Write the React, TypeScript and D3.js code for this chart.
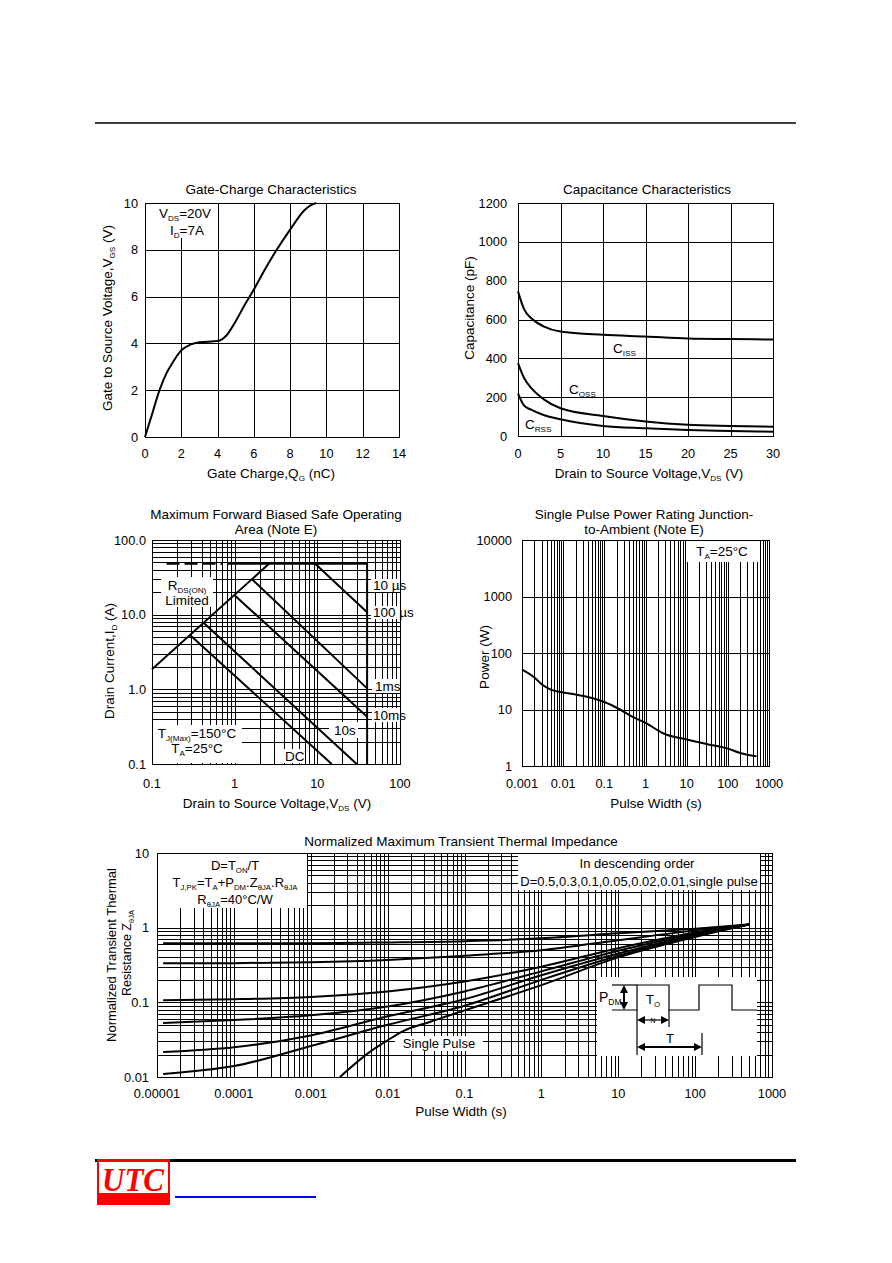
import React from 'react';
import * as d3 from 'd3';

const FONT = '"Liberation Sans", Arial, Helvetica, sans-serif';
const TICK = 12.8;
const LBL = 13.5;

// ---------- Chart 1: Gate-Charge ----------
const gateQ = [0, 0.4, 0.8, 1.2, 1.5, 2.0, 2.5, 3.0, 4.0, 4.5, 5.0, 5.5, 6.0, 6.6, 7.26, 8.0, 8.8, 9.2, 9.45];
const gateV = [0, 1.0, 2.0, 2.75, 3.15, 3.7, 3.95, 4.05, 4.1, 4.35, 4.95, 5.65, 6.3, 7.15, 8.0, 8.86, 9.7, 9.93, 10];
const gateXTicks = [0, 2, 4, 6, 8, 10, 12, 14];
const gateYTicks = [0, 2, 4, 6, 8, 10];

// ---------- Chart 2: Capacitance ----------
const capV = [0, 0.7, 1.6, 3, 5, 10, 15, 20, 25, 30];
const capCiss = [745, 655, 605, 565, 538, 521, 512, 502, 499, 497];
const capCoss = [375, 300, 245, 190, 143, 103, 75, 58, 52, 48];
const capCrss = [220, 158, 134, 108, 86, 52, 40, 31, 26, 22];
const capXTicks = [0, 5, 10, 15, 20, 25, 30];
const capYTicks = [0, 200, 400, 600, 800, 1000, 1200];

// ---------- Chart 3: SOA ----------
const soaRds = [[0.1, 1.86], [2.6, 48]];
const soaIdmDashed = [[0.15, 48], [0.72, 48]];
const soaIdmSolid = [[0.83, 48], [40, 48]];
const soaVmax = [[40, 48], [40, 0.1]];
const soa10us = [[9.4, 48], [40, 10.8]];
const soa100us = [[1.61, 30], [40, 1.03]];
const soa1ms = [[0.99, 18.4], [40, 0.43]];
const soa10ms = [[0.42, 7.8], [29.9, 0.1]];
const soaDC = [[0.288, 5.35], [14.9, 0.1]];
const soaXTicks = [0.1, 1, 10, 100];
const soaXTickLabels = ['0.1', '1', '10', '100'];
const soaYTicks = [0.1, 1, 10, 100];
const soaYTickLabels = ['0.1', '1.0', '10.0', '100.0'];

// ---------- Chart 4: Single pulse power ----------
const pwT = [0.001, 0.002, 0.003, 0.005, 0.01, 0.02, 0.05, 0.1, 0.24, 0.5, 1, 2.75, 10, 30, 100, 200, 500];
const pwP = [51, 37, 28, 22.5, 20, 18.5, 16, 13.6, 10, 7.3, 5.8, 3.76, 2.94, 2.45, 2.03, 1.7, 1.48];
const pwXTicks = [0.001, 0.01, 0.1, 1, 10, 100, 1000];
const pwXTickLabels = ['0.001', '0.01', '0.1', '1', '10', '100', '1000'];
const pwYTicks = [1, 10, 100, 1000, 10000];
const pwYTickLabels = ['1', '10', '100', '1000', '10000'];

// ---------- Chart 5: Transient thermal impedance ----------
const tpX = [1.2e-5, 1e-4, 1e-3, 0.01, 0.1, 1, 10, 100, 500];
const zD05 = [0.62, 0.62, 0.62, 0.635, 0.66, 0.72, 0.84, 0.97, 1.1];
const zD03 = [0.333, 0.335, 0.345, 0.37, 0.42, 0.5, 0.68, 0.92, 1.1];
const zD01 = [0.107, 0.11, 0.118, 0.14, 0.19, 0.3, 0.53, 0.86, 1.1];
const zD005 = [0.053, 0.058, 0.067, 0.088, 0.14, 0.26, 0.49, 0.83, 1.1];
const zD002 = [0.0216, 0.025, 0.036, 0.065, 0.11, 0.23, 0.45, 0.8, 1.1];
const zD001 = [0.011, 0.014, 0.026, 0.05, 0.09, 0.2, 0.42, 0.78, 1.1];
const spX = [0.0024, 0.006, 0.01, 0.015, 0.036, 0.1, 1, 10, 100, 500];
const spZ = [0.01, 0.022, 0.031, 0.04, 0.055, 0.078, 0.17, 0.4, 0.75, 1.1];
const tzXTicks = [1e-5, 1e-4, 1e-3, 0.01, 0.1, 1, 10, 100, 1000];
const tzXTickLabels = ['0.00001', '0.0001', '0.001', '0.01', '0.1', '1', '10', '100', '1000'];
const tzYTicks = [0.01, 0.1, 1, 10];
const tzYTickLabels = ['0.01', '0.1', '1', '10'];

// ---------- helpers ----------
const px = (v: number) => Math.round(v) + 0.5;

function logGrid(lo: number, hi: number): number[] {
  const out: number[] = [];
  const e0 = Math.floor(Math.log10(lo) + 1e-9);
  const e1 = Math.ceil(Math.log10(hi) - 1e-9);
  for (let e = e0; e <= e1; e++) {
    for (let m = 1; m <= 9; m++) {
      const v = m * Math.pow(10, e);
      if (v >= lo * 0.999 && v <= hi * 1.001) out.push(v);
    }
  }
  return out;
}

type Seg = string | { s: string };
function RT({ x, y, segs, size = LBL, anchor = 'middle', rotate = false, weight }: any) {
  let sub = false;
  const parts = (segs as Seg[]).map((s, i) => {
    if (typeof s === 'string') {
      const dy = sub ? -3 : 0;
      sub = false;
      return (
        <tspan key={i} dy={dy} fontSize={size}>
          {s}
        </tspan>
      );
    }
    const dy = sub ? 0 : 3;
    sub = true;
    return (
      <tspan key={i} dy={dy} fontSize={size * 0.6}>
        {s.s}
      </tspan>
    );
  });
  return (
    <text
      x={x}
      y={y}
      fontFamily={FONT}
      fontSize={size}
      fontWeight={weight}
      textAnchor={anchor}
      fill="#000"
      transform={rotate ? `rotate(-90 ${x} ${y})` : undefined}
    >
      {parts}
    </text>
  );
}

function Grid({ xs, ys, x, y, x0, x1, y0, y1 }: any) {
  return (
    <g stroke="#000" strokeWidth={1} shapeRendering="crispEdges">
      {xs.map((v: number, i: number) => (
        <line key={'v' + i} x1={px(x(v))} x2={px(x(v))} y1={y0} y2={y1} />
      ))}
      {ys.map((v: number, i: number) => (
        <line key={'h' + i} y1={px(y(v))} y2={px(y(v))} x1={x0} x2={x1} />
      ))}
    </g>
  );
}

function Frame({ x0, x1, y0, y1 }: any) {
  return (
    <rect
      x={px(x0)}
      y={px(y0)}
      width={Math.round(x1) - Math.round(x0)}
      height={Math.round(y1) - Math.round(y0)}
      fill="none"
      stroke="#000"
      strokeWidth={1}
      shapeRendering="crispEdges"
    />
  );
}

function Curve({ pts, x, y, w = 2, dash, smooth = true }: any) {
  const gen = d3
    .line<number[]>()
    .x((d) => x(d[0]))
    .y((d) => y(d[1]))
    .curve(smooth ? d3.curveMonotoneX : d3.curveLinear);
  return <path d={gen(pts) || ''} fill="none" stroke="#000" strokeWidth={w} strokeDasharray={dash} strokeLinejoin="round" />;
}

const zip = (a: number[], b: number[]) => a.map((v, i) => [v, b[i]]);

function Ticks({ vals, labels, scale, y, x, axis }: any) {
  return (
    <g>
      {vals.map((t: number, i: number) =>
        axis === 'x' ? (
          <text key={i} x={scale(t)} y={y} fontSize={TICK} fontFamily={FONT} textAnchor="middle">
            {labels ? labels[i] : t}
          </text>
        ) : (
          <text key={i} x={x} y={scale(t) + 4.5} fontSize={TICK} fontFamily={FONT} textAnchor="end">
            {labels ? labels[i] : t}
          </text>
        )
      )}
    </g>
  );
}

export default function App() {
  // scales
  const x1 = d3.scaleLinear().domain([0, 14]).range([145, 399]);
  const y1 = d3.scaleLinear().domain([0, 10]).range([437, 203]);
  const x2 = d3.scaleLinear().domain([0, 30]).range([518, 773]);
  const y2 = d3.scaleLinear().domain([0, 1200]).range([436, 203]);
  const x3 = d3.scaleLog().domain([0.1, 100]).range([152, 400]);
  const y3 = d3.scaleLog().domain([0.1, 100]).range([764, 540]);
  const x4 = d3.scaleLog().domain([0.001, 1000]).range([522, 769]);
  const y4 = d3.scaleLog().domain([1, 10000]).range([766, 540]);
  const x5 = d3.scaleLog().domain([1e-5, 1000]).range([157, 772]);
  const y5 = d3.scaleLog().domain([0.01, 10]).range([1077, 853]);

  const whiteBox = (x: number, y: number, w: number, h: number) => (
    <rect x={x} y={y} width={w} height={h} fill="#fff" stroke="none" />
  );

  // pulse diagram origin
  const pdx = 597;
  const pdy = 977;

  return (
    <svg
      width={892}
      height={1263}
      viewBox="0 0 892 1263"
      style={{ position: 'absolute', left: 0, top: 0, background: '#fff' }}
      fontFamily={FONT}
    >
      <rect x={0} y={0} width={892} height={1263} fill="#fff" />
      {/* header rule */}
      <line x1={95} x2={796} y1={123} y2={123} stroke="#000" strokeWidth={1.3} />

      {/* ================= Chart 1 ================= */}
      <g>
        <Grid xs={gateXTicks} ys={gateYTicks} x={x1} y={y1} x0={145} x1={399} y0={203} y1={437} />
        {whiteBox(146, 204, 70, 34)}
        <Frame x0={145} x1={399} y0={203} y1={437} />
        <Curve pts={zip(gateQ, gateV)} x={x1} y={y1} />
        <RT x={271} y={194} segs={['Gate-Charge Characteristics']} />
        <Ticks axis="x" vals={gateXTicks} scale={x1} y={458} />
        <Ticks axis="y" vals={gateYTicks} scale={y1} x={138} />
        <RT x={271} y={478} segs={['Gate Charge,Q', { s: 'G' }, ' (nC)']} />
        <RT x={112} y={318} rotate segs={['Gate to Source Voltage,V', { s: 'GS' }, ' (V)']} />
        <RT x={185} y={218} segs={['V', { s: 'DS' }, '=20V']} />
        <RT x={187} y={235} segs={['I', { s: 'D' }, '=7A']} />
      </g>

      {/* ================= Chart 2 ================= */}
      <g>
        <Grid xs={capXTicks} ys={capYTicks} x={x2} y={y2} x0={518} x1={773} y0={203} y1={436} />
        <Frame x0={518} x1={773} y0={203} y1={436} />
        <Curve pts={zip(capV, capCiss)} x={x2} y={y2} />
        <Curve pts={zip(capV, capCoss)} x={x2} y={y2} />
        <Curve pts={zip(capV, capCrss)} x={x2} y={y2} />
        <RT x={647} y={194} segs={['Capacitance Characteristics']} />
        <Ticks axis="x" vals={capXTicks} scale={x2} y={458} />
        <Ticks axis="y" vals={capYTicks} scale={y2} x={507} />
        <RT x={649} y={478} segs={['Drain to Source Voltage,V', { s: 'DS' }, ' (V)']} />
        <RT x={474} y={308} rotate segs={['Capacitance (pF)']} />
        <RT x={613} y={353} anchor="start" segs={['C', { s: 'ISS' }]} />
        <RT x={569} y={394} anchor="start" segs={['C', { s: 'OSS' }]} />
        <RT x={525} y={429} anchor="start" segs={['C', { s: 'RSS' }]} />
      </g>

      {/* ================= Chart 3 ================= */}
      <g>
        <Grid xs={logGrid(0.1, 100)} ys={logGrid(0.1, 100)} x={x3} y={y3} x0={152} x1={400} y0={540} y1={764} />
        {whiteBox(161, 577, 52, 30)}
        {whiteBox(153, 725, 89, 38)}
        {whiteBox(329, 722, 29, 16)}
        {whiteBox(282, 749, 23, 14)}
        {whiteBox(371, 579, 29, 13)}
        {whiteBox(371, 606, 29, 13)}
        {whiteBox(372, 679, 28, 14)}
        {whiteBox(372, 708, 28, 14)}
        <Frame x0={152} x1={400} y0={540} y1={764} />
        <Curve pts={soaRds} x={x3} y={y3} smooth={false} />
        <Curve pts={soaIdmDashed} x={x3} y={y3} smooth={false} dash="13,5" />
        <Curve pts={soaIdmSolid} x={x3} y={y3} smooth={false} />
        <Curve pts={soaVmax} x={x3} y={y3} smooth={false} />
        <Curve pts={soa10us} x={x3} y={y3} smooth={false} />
        <Curve pts={soa100us} x={x3} y={y3} smooth={false} />
        <Curve pts={soa1ms} x={x3} y={y3} smooth={false} />
        <Curve pts={soa10ms} x={x3} y={y3} smooth={false} />
        <Curve pts={soaDC} x={x3} y={y3} smooth={false} />
        <RT x={276} y={519} segs={['Maximum Forward Biased Safe Operating']} />
        <RT x={276} y={534} segs={['Area (Note E)']} />
        <Ticks axis="x" vals={soaXTicks} labels={soaXTickLabels} scale={x3} y={788} />
        <Ticks axis="y" vals={soaYTicks} labels={soaYTickLabels} scale={y3} x={146} />
        <RT x={277} y={808} segs={['Drain to Source Voltage,V', { s: 'DS' }, ' (V)']} />
        <RT x={114} y={661} rotate segs={['Drain Current,I', { s: 'D' }, ' (A)']} />
        <RT x={187} y={590} segs={['R', { s: 'DS(ON)' }]} />
        <RT x={187} y={605} segs={['Limited']} />
        <RT x={197} y={738} segs={['T', { s: 'J(Max)' }, '=150°C']} />
        <RT x={197} y={753} segs={['T', { s: 'A' }, '=25°C']} />
        <RT x={373} y={590} anchor="start" segs={['10 µs']} />
        <RT x={373} y={617} anchor="start" segs={['100 µs']} />
        <RT x={375} y={691} anchor="start" segs={['1ms']} />
        <RT x={373} y={720} anchor="start" segs={['10ms']} />
        <RT x={334} y={735} anchor="start" segs={['10s']} />
        <RT x={285} y={761} anchor="start" segs={['DC']} />
      </g>

      {/* ================= Chart 4 ================= */}
      <g>
        <Grid xs={logGrid(0.001, 1000)} ys={pwYTicks} x={x4} y={y4} x0={522} x1={769} y0={540} y1={766} />
        {whiteBox(687, 541, 73, 21)}
        <Frame x0={522} x1={769} y0={540} y1={766} />
        <Curve pts={zip(pwT, pwP)} x={x4} y={y4} />
        <RT x={644} y={519} segs={['Single Pulse Power Rating Junction-']} />
        <RT x={644} y={534} segs={['to-Ambient (Note E)']} />
        <Ticks axis="x" vals={pwXTicks} labels={pwXTickLabels} scale={x4} y={788} />
        <Ticks axis="y" vals={pwYTicks} labels={pwYTickLabels} scale={y4} x={512} />
        <RT x={656} y={808} segs={['Pulse Width (s)']} />
        <RT x={489} y={657} rotate segs={['Power (W)']} />
        <RT x={722} y={556} segs={['T', { s: 'A' }, '=25°C']} />
      </g>

      {/* ================= Chart 5 ================= */}
      <g>
        <Grid xs={logGrid(1e-5, 1000)} ys={logGrid(0.01, 10)} x={x5} y={y5} x0={157} x1={772} y0={853} y1={1077} />
        {whiteBox(158, 854, 149, 54)}
        {whiteBox(518, 854, 242, 36)}
        {whiteBox(395, 1036, 88, 15)}
        {whiteBox(pdx, pdy, 160, 79)}
        <Frame x0={157} x1={772} y0={853} y1={1077} />
        <Curve pts={zip(tpX, zD05)} x={x5} y={y5} />
        <Curve pts={zip(tpX, zD03)} x={x5} y={y5} />
        <Curve pts={zip(tpX, zD01)} x={x5} y={y5} />
        <Curve pts={zip(tpX, zD005)} x={x5} y={y5} />
        <Curve pts={zip(tpX, zD002)} x={x5} y={y5} />
        <Curve pts={zip(tpX, zD001)} x={x5} y={y5} />
        <Curve pts={zip(spX, spZ)} x={x5} y={y5} />
        <RT x={461} y={846} segs={['Normalized Maximum Transient Thermal Impedance']} />
        <Ticks axis="x" vals={tzXTicks} labels={tzXTickLabels} scale={x5} y={1098} />
        <Ticks axis="y" vals={tzYTicks} labels={tzYTickLabels} scale={y5} x={149} />
        <RT x={461} y={1116} segs={['Pulse Width (s)']} />
        <RT x={116} y={955} size={13} rotate segs={['Normalized Transient Thermal']} />
        <RT x={131} y={953} size={12.5} rotate segs={['Resistance Z', { s: 'θJA' }]} />
        <RT x={235} y={870} size={13} segs={['D=T', { s: 'ON' }, '/T']} />
        <RT x={235} y={887} size={13} segs={['T', { s: 'J,PK' }, '=T', { s: 'A' }, '+P', { s: 'DM' }, '.Z', { s: 'θJA' }, '.R', { s: 'θJA' }]} />
        <RT x={235} y={904} size={13} segs={['R', { s: 'θJA' }, '=40°C/W']} />
        <RT x={637} y={868} size={13} segs={['In descending order']} />
        <RT x={639} y={886} size={13} segs={['D=0.5,0.3,0.1,0.05,0.02,0.01,single pulse']} />
        <RT x={439} y={1048} size={13} segs={['Single Pulse']} />

        {/* pulse diagram */}
        <g stroke="#000" strokeWidth={1.2} fill="none">
          <polyline
            points={`${pdx + 15},${pdy + 33} ${pdx + 40},${pdy + 33} ${pdx + 40},${pdy + 8} ${pdx + 72},${pdy + 8} ${pdx + 72},${pdy + 33} ${pdx + 102},${pdy + 33} ${pdx + 102},${pdy + 8} ${pdx + 135},${pdy + 8} ${pdx + 135},${pdy + 33} ${pdx + 160},${pdy + 33}`}
          />
          <line x1={pdx + 15} x2={pdx + 40} y1={pdy + 8} y2={pdy + 8} />
          <line x1={pdx + 40} x2={pdx + 40} y1={pdy + 33} y2={pdy + 78} />
          <line x1={pdx + 72} x2={pdx + 72} y1={pdy + 33} y2={pdy + 50} />
          <line x1={pdx + 105} x2={pdx + 105} y1={pdy + 56} y2={pdy + 78} />
          <line x1={pdx + 27} x2={pdx + 27} y1={pdy + 12} y2={pdy + 29} strokeWidth={2} />
          <line x1={pdx + 44} x2={pdx + 68} y1={pdy + 43} y2={pdy + 43} />
          <line x1={pdx + 44} x2={pdx + 101} y1={pdy + 70} y2={pdy + 70} strokeWidth={2} />
        </g>
        <g fill="#000">
          <polygon points={`${pdx + 27},${pdy + 8} ${pdx + 23},${pdy + 16} ${pdx + 31},${pdy + 16}`} />
          <polygon points={`${pdx + 27},${pdy + 33} ${pdx + 23},${pdy + 25} ${pdx + 31},${pdy + 25}`} />
          <polygon points={`${pdx + 40},${pdy + 43} ${pdx + 48},${pdy + 39} ${pdx + 48},${pdy + 47}`} />
          <polygon points={`${pdx + 72},${pdy + 43} ${pdx + 64},${pdy + 39} ${pdx + 64},${pdy + 47}`} />
          <polygon points={`${pdx + 40},${pdy + 70} ${pdx + 48},${pdy + 66} ${pdx + 48},${pdy + 74}`} />
          <polygon points={`${pdx + 105},${pdy + 70} ${pdx + 97},${pdy + 66} ${pdx + 97},${pdy + 74}`} />
        </g>
        <RT x={pdx + 2} y={pdy + 25} size={14} anchor="start" segs={['P', { s: 'DM' }]} />
        <RT x={pdx + 56} y={pdy + 27} size={13} segs={['T', { s: 'O' }]} />
        <RT x={pdx + 56} y={pdy + 46} size={7} segs={['N']} />
        <RT x={pdx + 73} y={pdy + 66} size={13} segs={['T']} />
      </g>

      {/* footer */}
      <line x1={95} x2={796} y1={1160.5} y2={1160.5} stroke="#000" strokeWidth={3} />
      <rect x={97} y={1159} width={73} height={46} fill="#f00" />
      <rect x={99} y={1162} width={69} height={31} fill="#fff" />
      <text
        x={133}
        y={1191}
        fontFamily='"Liberation Serif", "DejaVu Serif", serif'
        fontStyle="italic"
        fontWeight="bold"
        fontSize={34}
        fill="#f00"
        textAnchor="middle"
        textLength={62}
        lengthAdjust="spacingAndGlyphs"
      >
        UTC
      </text>
      <line x1={175} x2={316} y1={1197} y2={1197} stroke="#00f" strokeWidth={2} />
    </svg>
  );
}
